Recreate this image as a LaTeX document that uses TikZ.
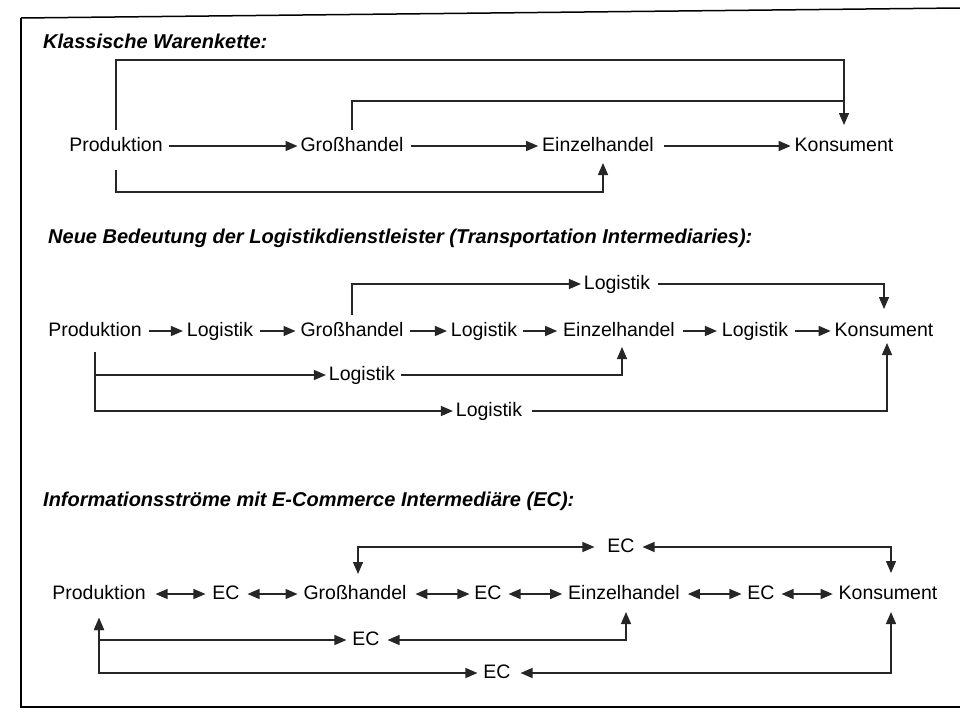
\documentclass[tikz,border=0pt]{standalone}
\usepackage{fontspec}
\setmainfont{Liberation Sans}
\usetikzlibrary{arrows.meta,calc}
\begin{document}
\begin{tikzpicture}[x=1pt,y=-1pt,
  lbl/.style={inner sep=0pt, outer sep=0pt, text height=14pt, text depth=4pt, font=\fontsize{19.5}{22}\selectfont},
  ttl/.style={inner sep=0pt, anchor=west, font=\fontsize{20}{23}\selectfont\bfseries\itshape},
  ln/.style={line width=1.3pt, draw=black!85},
  arr/.style={ln, -{Triangle[length=12pt,width=10pt]}},
  dbl/.style={ln, {Triangle[length=12pt,width=10pt]}-{Triangle[length=12pt,width=10pt]}},
]
\fill[white] (0,0) rectangle (960,712);
\useasboundingbox (0,0) rectangle (960,712);
% frame
\draw[line width=1.5pt] (21,18) -- (21,708);
\draw[line width=1.5pt] (21,18) -- (960,8);
\draw[line width=2pt] (21,707) -- (960,707);

% titles
\node[ttl] (T1) at (43,41) {Klassische Warenkette:};
\node[ttl] (T2) at (48,238) {Neue Bedeutung der Logistikdienstleister (Transportation Intermediaries):};
\node[ttl] (T3) at (43,501) {Informationsströme mit E-Commerce Intermediäre (EC):};

% ---------- section 1
\node[lbl] (P1) at (116,146) {Produktion};
\node[lbl] (G1) at (352,146) {Großhandel};
\node[lbl] (E1) at (598,146) {Einzelhandel};
\node[lbl] (K1) at (844,146) {Konsument};
\coordinate (y1a) at (0,60);
\coordinate (y1b) at (0,101);
\coordinate (y1c) at (0,192);
\draw[arr] ([xshift=6]P1.east) -- ([xshift=-3]G1.west);
\draw[arr] ([xshift=8]G1.east) -- ([xshift=-4]E1.west);
\draw[arr] ([xshift=10]E1.east) -- ([xshift=-4]K1.west);
\draw[arr] ([yshift=7]P1.north) |- (y1a -| K1) -- ([yshift=12]K1.north);
\draw[ln] ([yshift=7]G1.north) |- (y1b -| K1);
\draw[arr] ([yshift=-15]P1.south) |- ($(y1c -| E1)+(5,0)$) -- ([xshift=5,yshift=-8]E1.south);

% ---------- section 2
\node[lbl] (P2) at (95,331) {Produktion};
\node[lbl] (L2a) at (220,331) {Logistik};
\node[lbl] (G2) at (352,331) {Großhandel};
\node[lbl] (L2b) at (484,331) {Logistik};
\node[lbl] (E2) at (619,331) {Einzelhandel};
\node[lbl] (L2c) at (755,331) {Logistik};
\node[lbl] (K2) at (884,331) {Konsument};
\node[lbl] (L2t) at (617,284) {Logistik};
\node[lbl] (L2m) at (362,375) {Logistik};
\node[lbl] (L2d) at (489,411) {Logistik};
\draw[arr] ([xshift=7]P2.east) -- ([xshift=-4]L2a.west);
\draw[arr] ([xshift=7]L2a.east) -- ([xshift=-5]G2.west);
\draw[arr] ([xshift=7]G2.east) -- ([xshift=-4]L2b.west);
\draw[arr] ([xshift=6]L2b.east) -- ([xshift=-6]E2.west);
\draw[arr] ([xshift=8]E2.east) -- ([xshift=-5]L2c.west);
\draw[arr] ([xshift=7]L2c.east) -- ([xshift=-4]K2.west);
\draw[arr] ([yshift=7]G2.north) |- ([xshift=-3]L2t.west);
\draw[arr] ([xshift=8]L2t.east) -| ([yshift=13]K2.north);
\draw[arr] ([yshift=-12]P2.south) |- ([xshift=-3]L2m.west);
\draw[arr] ([xshift=6]L2m.east) -| ([xshift=3,yshift=-7]E2.south);
\draw[arr] ([yshift=-12]P2.south) |- ([xshift=-3]L2d.west);
\draw[arr] ([xshift=10]L2d.east) -| ([xshift=3,yshift=-3]K2.south);

% ---------- section 3
\node[lbl] (P3) at (99,594) {Produktion};
\node[lbl] (EC1) at (226,594) {EC};
\node[lbl] (G3) at (355,594) {Großhandel};
\node[lbl] (EC2) at (488,594) {EC};
\node[lbl] (E3) at (624,594) {Einzelhandel};
\node[lbl] (EC3) at (761,594) {EC};
\node[lbl] (K3) at (888,594) {Konsument};
\node[lbl] (EC4) at (621,547) {EC};
\node[lbl] (EC5) at (366,640) {EC};
\node[lbl] (EC6) at (497,673) {EC};
\draw[dbl] ([xshift=10]P3.east) -- ([xshift=-7]EC1.west);
\draw[dbl] ([xshift=8]EC1.east) -- ([xshift=-6]G3.west);
\draw[dbl] ([xshift=9]G3.east) -- ([xshift=-5]EC2.west);
\draw[dbl] ([xshift=7]EC2.east) -- ([xshift=-6]E3.west);
\draw[dbl] ([xshift=8]E3.east) -- ([xshift=-6]EC3.west);
\draw[dbl] ([xshift=7]EC3.east) -- ([xshift=-6]K3.west);
\draw[dbl] ([xshift=-13]EC4.west) -| ([xshift=3,yshift=11]G3.north);
\draw[dbl] ([xshift=8]EC4.east) -| ([xshift=3,yshift=12]K3.north);
\draw[dbl] ([xshift=-6]EC5.west) -| ([yshift=-15]P3.south);
\draw[dbl] ([xshift=8]EC5.east) -| ([xshift=2,yshift=-9]E3.south);
\draw[dbl] ([xshift=-6]EC6.west) -| ([yshift=-15]P3.south);
\draw[dbl] ([xshift=10]EC6.east) -| ([xshift=3,yshift=-9]K3.south);
\end{tikzpicture}
\end{document}
